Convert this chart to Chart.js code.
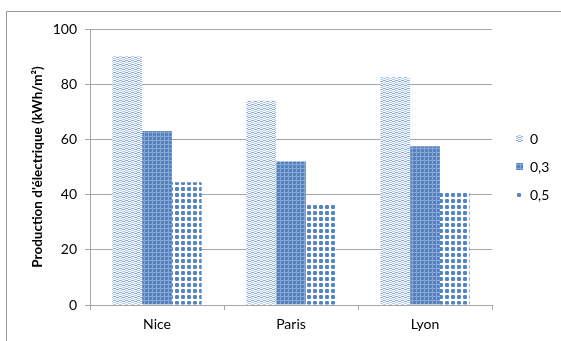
<!DOCTYPE html>
<html>
<head>
<meta charset="utf-8">
<script src="https://cdn.jsdelivr.net/npm/chart.js@4/dist/chart.umd.min.js"></script>
<style>
  html, body { margin: 0; padding: 0; background: #fff; }
  #wrap { position: relative; width: 561px; height: 341px; }
</style>
</head>
<body>
<div id="wrap"><canvas id="c" width="561" height="341"></canvas></div>
<script>
// Production per city for three reflection coefficients
const cities = ['Nice', 'Paris', 'Lyon'];
const seriesNames = ['0', '0,3', '0,5'];
const values0 = [90, 74, 82.5];
const values03 = [63, 52, 57.5];
const values05 = [44.5, 37, 41];
const yTicks = [0, 20, 40, 60, 80, 100];

// Small pixel tiles used as bar fills
function makeTile(w, h, draw) {
  const cv = document.createElement('canvas');
  cv.width = w; cv.height = h;
  const g = cv.getContext('2d');
  draw(g);
  return document.createElement('canvas').getContext('2d').createPattern(cv, 'repeat');
}
function px(g, x, y, c) { g.fillStyle = c; g.fillRect(x, y, 1, 1); }

const wavePattern = makeTile(6, 4, g => {
  g.fillStyle = '#ffffff'; g.fillRect(0, 0, 6, 4);
  const c1 = '#86a8da', c2 = '#b4cbea';
  [[0,0],[1,0],[3,1],[4,1],[5,0],[2,1]].forEach(p => px(g, p[0], p[1], c1));
  [[0,2],[1,2],[3,3],[4,3],[5,2],[2,3]].forEach(p => px(g, p[0], p[1], c2));
});

const densePattern = makeTile(4, 4, g => {
  g.fillStyle = '#5584c3'; g.fillRect(0, 0, 4, 4);
  g.fillStyle = '#86a7d6';
  g.fillRect(0, 0, 4, 1);
  g.fillRect(0, 0, 1, 4);
  px(g, 2, 2, '#4a7abb');
});

const dotPattern = makeTile(6, 6, g => {
  g.fillStyle = '#ffffff'; g.fillRect(0, 0, 6, 6);
  g.fillStyle = '#5584c3';
  g.fillRect(1, 2, 4, 2);
  g.fillRect(2, 1, 2, 4);
  g.fillStyle = '#8aaad8';
  g.fillRect(1, 1, 1, 1); g.fillRect(4, 1, 1, 1);
  g.fillRect(1, 4, 1, 1); g.fillRect(4, 4, 1, 1);
});

const fills = [wavePattern, densePattern, dotPattern];

// Frame lines and side legend
const framePlugin = {
  id: 'frame',
  beforeDraw(chart) {
    const ctx = chart.ctx;
    ctx.save();
    ctx.strokeStyle = '#9a9a9a';
    ctx.lineWidth = 1;
    ctx.beginPath();
    ctx.moveTo(6.5, 341);
    ctx.lineTo(6.5, 11.5);
    ctx.lineTo(561, 11.5);
    ctx.stroke();
    ctx.restore();
  },
  afterDraw(chart) {
    const ctx = chart.ctx;
    const area = chart.chartArea;
    ctx.save();
    ctx.font = '14px Lato';
    ctx.textBaseline = 'middle';
    const x0 = area.right + 24;
    const yc = (area.top + area.bottom) / 2;
    chart.data.datasets.forEach((ds, i) => {
      const y = yc - 28 + i * 28;
      ctx.fillStyle = ds.backgroundColor;
      ctx.fillRect(x0, y - 4, 7, 7);
      ctx.fillStyle = '#000';
      ctx.fillText(ds.label, x0 + 14, y);
    });
    ctx.restore();
  }
};

new Chart(document.getElementById('c'), {
  type: 'bar',
  data: {
    labels: cities,
    datasets: [
      { label: seriesNames[0], data: values0, backgroundColor: fills[0] },
      { label: seriesNames[1], data: values03, backgroundColor: fills[1] },
      { label: seriesNames[2], data: values05, backgroundColor: fills[2] }
    ]
  },
  options: {
    responsive: false,
    animation: false,
    devicePixelRatio: 1,
    layout: { padding: { left: 0, top: 29, right: 69, bottom: 0 } },
    datasets: { bar: { categoryPercentage: 0.666, barPercentage: 1.0, borderWidth: 0 } },
    plugins: { legend: { display: false }, tooltip: { enabled: false } },
    scales: {
      x: {
        grid: { display: true, offset: true, drawOnChartArea: false, tickLength: 5, color: '#a6a6a6' },
        border: { display: true, color: '#a6a6a6' },
        ticks: { font: { family: 'Lato', size: 14 }, color: '#000', padding: 6 },
        afterFit(s) { s.height = 36; }
      },
      y: {
        min: 0, max: 100,
        afterBuildTicks(s) { s.ticks = yTicks.map(v => ({ value: v })); },
        grid: { color: '#a6a6a6', tickLength: 5 },
        border: { display: true, color: '#a6a6a6' },
        ticks: { font: { family: 'Lato', size: 14 }, color: '#000', padding: 8 },
        title: {
          display: true,
          text: "Production d'électrique (kWh/m²)",
          font: { family: 'Lato', size: 13.5, weight: 'bold' },
          color: '#000',
          padding: { top: 30, bottom: 0 }
        },
        afterFit(s) { s.width = 90; }
      }
    }
  },
  plugins: [framePlugin]
});
</script>
</body>
</html>
